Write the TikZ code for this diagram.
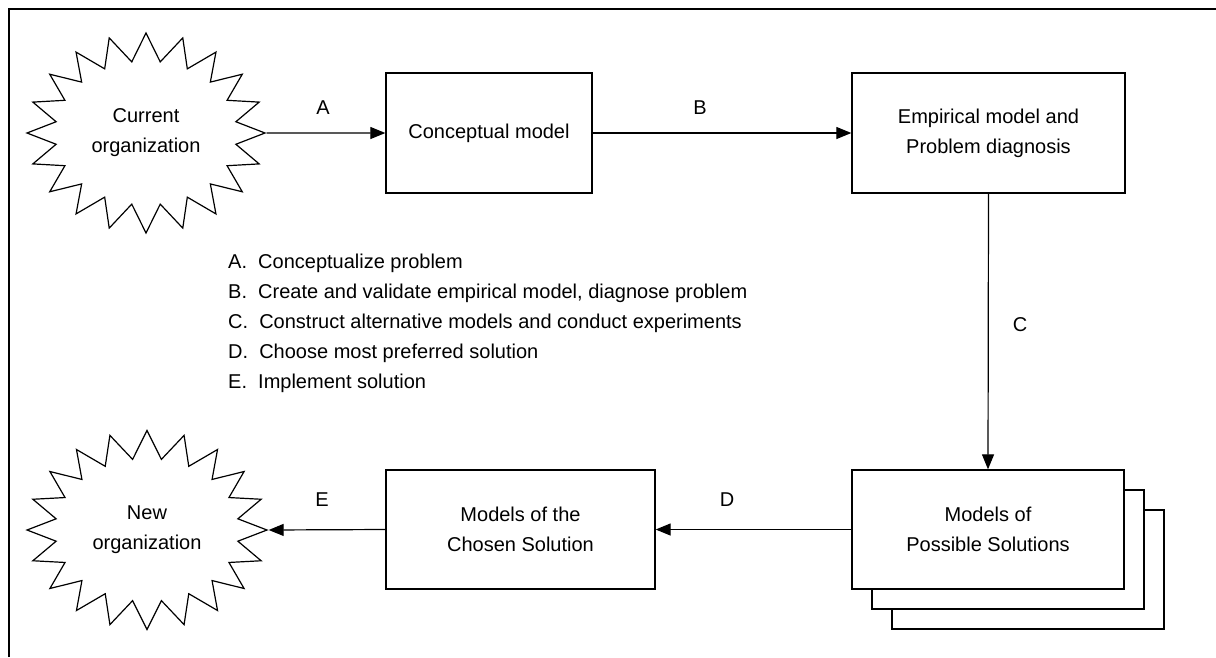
\documentclass[tikz,border=0pt]{standalone}
\usepackage{fontspec}
\setmainfont{Liberation Sans}
\usetikzlibrary{arrows.meta,shapes.symbols}
\begin{document}
\begin{tikzpicture}[x=1pt,y=-1pt,
  every node/.style={font=\fontsize{20}{30}\selectfont, inner sep=0pt},
  box/.style={draw, line width=1.3pt, fill=white, align=center},
  burst/.style={draw, line width=1.2pt, starburst, starburst points=20,
    starburst point height=28pt, random starburst=0, align=center},
  arr/.style={line width=1.2pt, -{Triangle[length=15pt,width=12pt]}},
  lbl/.style={font=\fontsize{20}{24}\selectfont}]
\useasboundingbox (0,0) rectangle (1216,657);

% partial frame
\draw[line width=2pt] (9,657) -- (9,9) -- (1216,9);

% start and end states
\node[burst, minimum width=238pt, minimum height=200pt]
  (cur) at (146,133) {Current\\organization};
\node[burst, minimum width=240pt, minimum height=199pt]
  (new) at (147,530) {New\\organization};

% process boxes
\node[box, minimum width=206pt, minimum height=120pt] (concept) at (489,133) {Conceptual model};
\node[box, minimum width=273pt, minimum height=120pt] (emp) at (988.5,133)
  {Empirical model and\\Problem diagnosis};

% stacked sheets for the alternative solution models
\node[box, minimum width=272pt, minimum height=119pt] (sheetc) at (1028,569.5) {};
\node[box, minimum width=272pt, minimum height=119pt] (sheetb) at (1008,549.5) {};
\node[box, minimum width=272pt, minimum height=119pt] (poss) at (988,529.5)
  {Models of\\Possible Solutions};
\node[box, minimum width=269pt, minimum height=119pt] (chosen) at (520.5,529.5)
  {Models of the\\Chosen Solution};

% connectors
\draw[arr] (cur.east) -- (concept.west);
\draw[arr] (concept.east) -- (emp.west);
\draw[arr] (emp.south) -- (poss.north);
\draw[arr] (poss.west) -- (chosen.east);
\draw[arr] (chosen.west) -- (new.east);

% connector labels
\node[lbl] (la) at (323,108) {A};
\node[lbl] (lb) at (700,108) {B};
\node[lbl] (lc) at (1020,325) {C};
\node[lbl] (ld) at (727,500) {D};
\node[lbl] (le) at (322,500) {E};

% legend
\node[anchor=north west, align=left, font=\fontsize{20}{30}\selectfont] (legend) at (228,254)
  {A.\ \ Conceptualize problem\\
   B.\ \ Create and validate empirical model, diagnose problem\\
   C.\ \ Construct alternative models and conduct experiments\\
   D.\ \ Choose most preferred solution\\
   E.\ \ Implement solution};
\end{tikzpicture}
\end{document}
